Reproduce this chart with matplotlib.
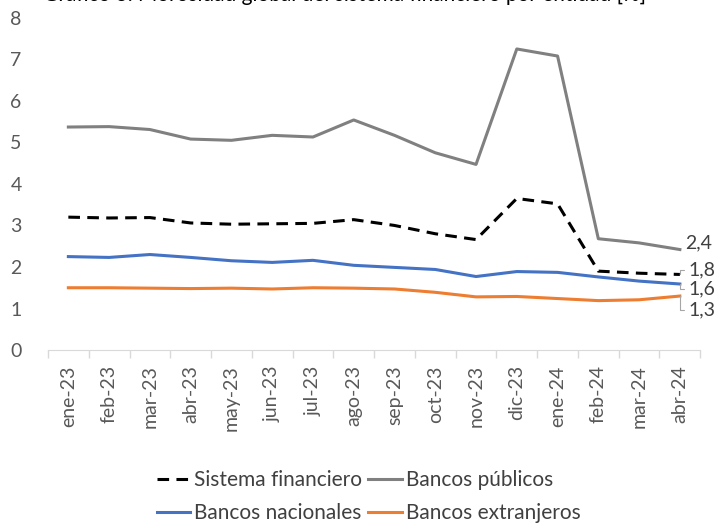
import numpy as np
import matplotlib
matplotlib.use('Agg')
import matplotlib.pyplot as plt

plt.rcParams['font.family'] = ['Lato', 'DejaVu Sans']

# data (%)
meses = ['ene-23', 'feb-23', 'mar-23', 'abr-23', 'may-23', 'jun-23', 'jul-23', 'ago-23',
         'sep-23', 'oct-23', 'nov-23', 'dic-23', 'ene-24', 'feb-24', 'mar-24', 'abr-24']
sistema = [3.20, 3.18, 3.19, 3.06, 3.03, 3.04, 3.05, 3.14, 3.00, 2.80, 2.66, 3.65, 3.52, 1.90, 1.85, 1.82]
publicos = [5.37, 5.38, 5.31, 5.08, 5.05, 5.17, 5.13, 5.54, 5.17, 4.75, 4.47, 7.25, 7.08, 2.68, 2.58, 2.42]
nacionales = [2.25, 2.23, 2.30, 2.23, 2.15, 2.11, 2.16, 2.04, 1.99, 1.94, 1.77, 1.89, 1.87, 1.76, 1.66, 1.59]
extranjeros = [1.50, 1.50, 1.49, 1.48, 1.49, 1.47, 1.50, 1.49, 1.47, 1.39, 1.28, 1.29, 1.24, 1.19, 1.21, 1.30]
etiquetas_fin = ['2,4', '1,8', '1,6', '1,3']

TXT = '#595959'

fig = plt.figure(figsize=(7.16, 5.24), dpi=100)
ax = fig.add_axes([0.067, 0.332, 0.911, 0.634])

x = np.arange(len(meses))
l1, = ax.plot(x, sistema, color='black', lw=2.2, dashes=(3.8, 2.4), label='Sistema financiero')
l2, = ax.plot(x, publicos, color='#808080', lw=2.2, label='Bancos públicos')
l3, = ax.plot(x, nacionales, color='#4472C4', lw=2.2, label='Bancos nacionales')
l4, = ax.plot(x, extranjeros, color='#ED7D31', lw=2.2, label='Bancos extranjeros')

ax.set_xlim(-0.5, len(meses) - 0.5)
ax.set_ylim(0, 8)
ax.set_yticks(range(0, 9))
ax.tick_params(axis='y', length=0, labelsize=14, labelcolor=TXT, pad=19)

ax.set_xticks(x)
ax.set_xticklabels(meses, rotation=90, fontsize=14, color=TXT)
ax.tick_params(axis='x', length=0, pad=11)
ax.set_xticks(np.arange(-0.5, len(meses)), minor=True)
ax.tick_params(axis='x', which='minor', length=6, color='#d9d9d9', width=1)

for s in ['left', 'right', 'top']:
    ax.spines[s].set_visible(False)
ax.spines['bottom'].set_color('#d9d9d9')

# end-of-series labels, leader lines where the label is pushed away
ult = [publicos[-1], sistema[-1], nacionales[-1], extranjeros[-1]]
offs = [(4, 5), (6, 3), (6, -3.5), (6, -10)]
lider = [False, True, True, True]
for val, txt, off, con in zip(ult, etiquetas_fin, offs, lider):
    props = None
    if con:
        props = dict(arrowstyle='-', color='#a6a6a6', lw=0.8, shrinkA=1, shrinkB=0,
                     connectionstyle='angle,angleA=0,angleB=90,rad=0')
    ax.annotate(txt, xy=(x[-1], val), xytext=off, textcoords='offset points',
                fontsize=14, color='#404040', va='center', ha='left',
                annotation_clip=False, arrowprops=props)

fig.legend([l1, l3, l2, l4],
           ['Sistema financiero', 'Bancos nacionales', 'Bancos públicos', 'Bancos extranjeros'],
           ncol=2, loc='lower center', bbox_to_anchor=(0.515, -0.034), frameon=False,
           fontsize=15, labelcolor='#404040', handlelength=1.6, handletextpad=0.2,
           columnspacing=0.3, labelspacing=0.62)

# title, cut off by the top edge in the original
fig.text(0.06, 1 - 1.2 / 524, 'Gráfico 3. Morosidad global del sistema financiero por entidad [%]',
         fontsize=15, color='black', va='baseline', ha='left')

fig.savefig('out.png', dpi=100)
